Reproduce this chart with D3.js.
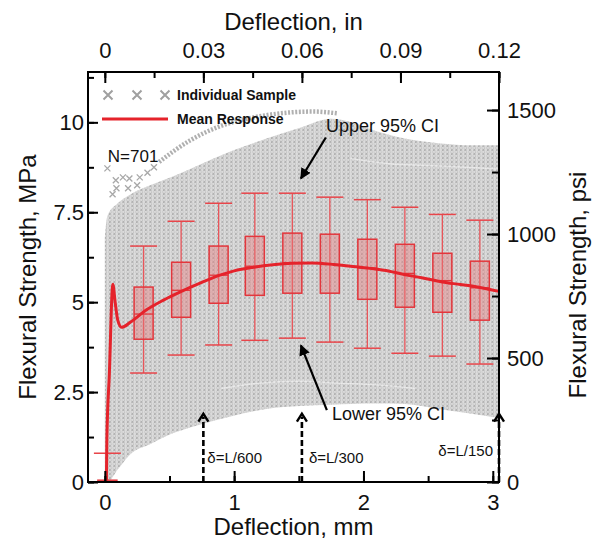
<!DOCTYPE html>
<html>
<head>
<meta charset="utf-8">
<script src="https://cdn.jsdelivr.net/npm/d3@7"></script>
<style>
    body { margin: 0; background: #fff; }
    text { font-family: "Liberation Sans", Arial, sans-serif; fill: #111; }
</style>
</head>
<body>
<svg id="chart" width="600" height="546"></svg>
<script>
"use strict";

// ---- data: deflection in mm, strength in MPa ----
const bandDefl = [0, 0.02, 0.1, 0.2, 0.35, 0.53, 0.72, 0.98, 1.25, 1.51, 1.75, 1.91, 2.1, 2.32, 2.58, 2.85, 3.048];
const bandLow  = [0, 0, 0.35, 0.78, 1.05, 1.36, 1.58, 1.83, 2.03, 2.11, 2.15, 2.17, 2.18, 2.17, 2.03, 1.89, 1.78];
const bandHigh = [6.8, 7.4, 7.75, 8.0, 8.25, 8.5, 8.8, 9.2, 9.55, 9.85, 10.1, 10.0, 9.75, 9.55, 9.42, 9.36, 9.36];

// the one sample that runs above the rest
const topSampleDefl = [0.42, 0.66, 0.89, 1.1, 1.25, 1.45, 1.61, 1.8];
const topSampleStr  = [8.9, 9.5, 9.89, 10.1, 10.2, 10.28, 10.3, 10.25];

// stray points near the origin
const strayDefl = [0.02, 0.085, 0.14, 0.19, 0.27, 0.09, 0.18, 0.25, 0.06, 0.33, 0.38];
const strayStr  = [8.72, 8.39, 8.47, 8.44, 8.47, 8.17, 8.17, 8.25, 8.0, 8.6, 8.75];

// lighter gaps between sample curves
const gapLowDefl  = [0.9, 1.2, 1.5, 1.8, 2.1, 2.4];
const gapLowStr   = [2.6, 2.75, 2.8, 2.75, 2.7, 2.6];
const gapHighDefl = [1.9, 2.2, 2.5, 2.8, 3.048];
const gapHighStr  = [9.0, 8.85, 8.8, 8.75, 8.7];

const meanDefl = [0.012, 0.016, 0.035, 0.062, 0.08, 0.1, 0.13, 0.2, 0.32, 0.45, 0.58, 0.75, 0.89, 1.0, 1.15, 1.3,
    1.45, 1.6, 1.77, 1.9, 2.05, 2.2, 2.3, 2.45, 2.61, 2.75, 2.88, 3.048];
const meanStr  = [0, 1.2, 3.0, 5.5, 5.0, 4.5, 4.3, 4.45, 4.78, 5.05, 5.28, 5.55, 5.75, 5.87, 5.97, 6.04,
    6.08, 6.09, 6.05, 6.0, 5.94, 5.86, 5.78, 5.68, 5.56, 5.49, 5.42, 5.3];

const boxDefl   = [0.02, 0.30, 0.59, 0.88, 1.16, 1.45, 1.74, 2.03, 2.32, 2.61, 2.90];
const boxLower  = [0, 3.03, 3.53, 3.81, 3.94, 4.00, 3.89, 3.72, 3.58, 3.50, 3.28];
const boxQ1     = [0, 3.97, 4.58, 4.97, 5.19, 5.25, 5.25, 5.08, 4.86, 4.72, 4.50];
const boxMedian = [0, 4.67, 5.33, 5.75, 6.00, 6.10, 6.05, 5.95, 5.80, 5.60, 5.40];
const boxQ3     = [0.05, 5.42, 6.11, 6.56, 6.83, 6.92, 6.89, 6.75, 6.61, 6.36, 6.14];
const boxUpper  = [0.8, 6.56, 7.25, 7.75, 8.03, 8.03, 7.92, 7.85, 7.64, 7.44, 7.28];

const spanLength = 457.2;            // mm
const limitRatios = [600, 300, 150];

const mmTicks = [0, 0.5, 1, 1.5, 2, 2.5, 3];
const mmLabels = [0, 1, 2, 3];
const inTicks = [0, 0.015, 0.03, 0.045, 0.06, 0.075, 0.09, 0.105, 0.12];
const inLabels = [0, 0.03, 0.06, 0.09, 0.12];
const mpaTicks = [0, 1.25, 2.5, 3.75, 5, 6.25, 7.5, 8.75, 10, 11.25];
const mpaLabels = [0, 2.5, 5, 7.5, 10];
const psiTicks = [0, 250, 500, 750, 1000, 1250, 1500];
const psiLabels = [0, 500, 1000, 1500];

const MM_PER_IN = 25.4;
const PSI_PER_MPA = 145.038;

/**
 * @class
 */
class FlexuralChart {

    constructor(selector) {
        this.svg = d3.select(selector);
        this.x = d3.scaleLinear().domain([-0.13, 3.048]).range([88, 499]);
        this.xIn = d3.scaleLinear().domain([-0.13 / MM_PER_IN, 3.048 / MM_PER_IN]).range([88, 499]);
        this.y = d3.scaleLinear().domain([0, 11.4]).range([482, 72]);
        this.yPsi = d3.scaleLinear().domain([0, 11.4 * PSI_PER_MPA]).range([482, 72]);
        this.red = "#e5232b";
    }

    build() {
        this.defs();
        this.band();
        this.boxes();
        this.meanLine();
        this.limits();
        this.axes();
        this.annotations();
        this.legend();
    }

    defs() {
        const defs = this.svg.append("defs");
        const pat = defs.append("pattern").attr("id", "xpat")
            .attr("width", 4.5).attr("height", 4).attr("patternUnits", "userSpaceOnUse");
        pat.append("rect").attr("width", 4.5).attr("height", 4).attr("fill", "#dcdcdc");
        pat.append("path").attr("d", "M0.6,0.5L3.4,3.3M3.4,0.5L0.6,3.3")
            .attr("stroke", "#a4a4a4").attr("stroke-width", 0.8);
        const clip = defs.append("clipPath").attr("id", "plotclip");
        clip.append("rect").attr("x", this.x.range()[0]).attr("y", this.y.range()[1])
            .attr("width", this.x.range()[1] - this.x.range()[0])
            .attr("height", this.y.range()[0] - this.y.range()[1]);
        defs.append("marker").attr("id", "head").attr("viewBox", "0 0 10 10")
            .attr("refX", 9).attr("refY", 5).attr("markerWidth", 5).attr("markerHeight", 5)
            .attr("orient", "auto").append("path").attr("d", "M0,0L10,5L0,10z").attr("fill", "#000");
    }

    band() {
        const x = this.x, y = this.y;
        const g = this.svg.append("g").attr("clip-path", "url(#plotclip)");
        const area = d3.area().curve(d3.curveMonotoneX)
            .x((d, i) => x(bandDefl[i])).y0((d, i) => y(bandLow[i])).y1((d, i) => y(bandHigh[i]));
        g.append("path").attr("d", area(bandDefl)).attr("fill", "url(#xpat)");

        const line = (xs, ys) => d3.line().curve(d3.curveMonotoneX)
            .x((d, i) => x(xs[i])).y((d, i) => y(ys[i]))(xs);
        [[gapLowDefl, gapLowStr], [gapHighDefl, gapHighStr]].forEach(([xs, ys]) => {
            g.append("path").attr("d", line(xs, ys)).attr("fill", "none")
                .attr("stroke", "#fff").attr("stroke-width", 1.4).attr("opacity", 0.45);
        });
        g.append("path").attr("d", line(topSampleDefl, topSampleStr)).attr("fill", "none")
            .attr("stroke", "#b0b0b0").attr("stroke-width", 4.5).attr("stroke-dasharray", "2,1.6");

        g.selectAll(".stray").data(strayDefl).enter().append("path")
            .attr("class", "stray")
            .attr("transform", (d, i) => `translate(${x(d)},${y(strayStr[i])})`)
            .attr("d", "M-3,-3L3,3M3,-3L-3,3")
            .attr("stroke", "#a8a8a8").attr("stroke-width", 1.3);
    }

    boxes() {
        const x = this.x, y = this.y;
        const g = this.svg.append("g");
        const bw = 9.5, cw = 13.5;
        const box = g.selectAll(".box").data(boxDefl).enter().append("g").attr("class", "box");
        box.append("line").attr("x1", d => x(d)).attr("x2", d => x(d))
            .attr("y1", (d, i) => y(boxLower[i])).attr("y2", (d, i) => y(boxUpper[i]))
            .attr("stroke", "#e8555a").attr("stroke-width", 1.3);
        [boxLower, boxUpper].forEach(arr => {
            box.append("line").attr("x1", d => x(d) - cw).attr("x2", d => x(d) + cw)
                .attr("y1", (d, i) => y(arr[i])).attr("y2", (d, i) => y(arr[i]))
                .attr("stroke", "#e8454a").attr("stroke-width", 1.5);
        });
        box.append("rect").attr("x", d => x(d) - bw).attr("width", bw * 2)
            .attr("y", (d, i) => y(boxQ3[i])).attr("height", (d, i) => y(boxQ1[i]) - y(boxQ3[i]))
            .attr("fill", "rgba(232,120,122,0.42)").attr("stroke", "#e3363c").attr("stroke-width", 1.5);
        box.append("line").attr("x1", d => x(d) - bw).attr("x2", d => x(d) + bw)
            .attr("y1", (d, i) => y(boxMedian[i])).attr("y2", (d, i) => y(boxMedian[i]))
            .attr("stroke", "#e3363c").attr("stroke-width", 1.3);
    }

    meanLine() {
        const x = this.x, y = this.y;
        const line = d3.line().curve(d3.curveMonotoneX)
            .x((d, i) => x(meanDefl[i])).y((d, i) => y(meanStr[i]));
        this.svg.append("path").attr("d", line(meanDefl)).attr("fill", "none")
            .attr("stroke", this.red).attr("stroke-width", 3);
    }

    limits() {
        const x = this.x, y = this.y;
        const g = this.svg.append("g");
        const top = 1.9;
        limitRatios.forEach((r, k) => {
            const xv = x(Math.min(spanLength / r, 3.048));
            g.append("line").attr("x1", xv).attr("x2", xv).attr("y1", y(0)).attr("y2", y(top) + 3)
                .attr("stroke", "#000").attr("stroke-width", 2.6).attr("stroke-dasharray", "6,3");
            g.append("path").attr("d", `M${xv - 5},${y(top) + 8}L${xv},${y(top)}L${xv + 5},${y(top) + 8}`)
                .attr("fill", "none").attr("stroke", "#000").attr("stroke-width", 2.4);
            const last = k === limitRatios.length - 1;
            g.append("text")
                .attr("x", last ? xv - 6 : xv + (k === 0 ? 4 : 7))
                .attr("y", last ? y(0.72) : y(0.53))
                .attr("text-anchor", last ? "end" : "start")
                .attr("font-size", 15)
                .text(`δ=L/${r}`);
        });
    }

    axes() {
        const x = this.x, xIn = this.xIn, y = this.y, yPsi = this.yPsi;
        const svg = this.svg;
        const [x0, x1] = x.range();
        const [y0, y1] = y.range();
        const style = (g, size) => {
            g.select(".domain").remove();
            g.selectAll("line").attr("stroke", "#000").attr("stroke-width", 2);
            g.selectAll("text").attr("font-size", size).attr("font-family", "Liberation Sans, Arial, sans-serif")
                .attr("fill", "#111");
        };
        // minor ticks
        svg.append("g").attr("transform", `translate(0,${y0})`)
            .call(d3.axisBottom(x).tickValues(mmTicks).tickSize(-6).tickFormat("")).call(g => style(g, 0));
        svg.append("g").attr("transform", `translate(0,${y1})`)
            .call(d3.axisTop(xIn).tickValues(inTicks).tickSize(-6).tickFormat("")).call(g => style(g, 0));
        svg.append("g").attr("transform", `translate(${x0},0)`)
            .call(d3.axisLeft(y).tickValues(mpaTicks).tickSize(-6).tickFormat("")).call(g => style(g, 0));
        svg.append("g").attr("transform", `translate(${x1},0)`)
            .call(d3.axisRight(yPsi).tickValues(psiTicks).tickSize(-7).tickFormat("")).call(g => style(g, 0));
        // major ticks with labels
        svg.append("g").attr("transform", `translate(0,${y0})`)
            .call(d3.axisBottom(x).tickValues(mmLabels).tickSizeInner(-11).tickSizeOuter(0).tickPadding(12)
                .tickFormat(d3.format("d"))).call(g => style(g, 22));
        svg.append("g").attr("transform", `translate(0,${y1})`)
            .call(d3.axisTop(xIn).tickValues(inLabels).tickSizeInner(-11).tickSizeOuter(0).tickPadding(14)
                .tickFormat(d => d === 0 ? "0" : d3.format(".2f")(d))).call(g => style(g, 22));
        svg.append("g").attr("transform", `translate(${x0},0)`)
            .call(d3.axisLeft(y).tickValues(mpaLabels).tickSizeInner(-10).tickSizeOuter(0).tickPadding(4)
                .tickFormat(d => String(d))).call(g => style(g, 22));
        svg.append("g").attr("transform", `translate(${x1},0)`)
            .call(d3.axisRight(yPsi).tickValues(psiLabels).tickSizeInner(-12).tickSizeOuter(0).tickPadding(8)
                .tickFormat(d => String(d))).call(g => style(g, 22));

        svg.append("rect").attr("x", x0).attr("y", y1).attr("width", x1 - x0).attr("height", y0 - y1)
            .attr("fill", "none").attr("stroke", "#000").attr("stroke-width", 2);

        const cx = (x0 + x1) / 2;
        svg.append("text").attr("x", cx).attr("y", 30).attr("text-anchor", "middle")
            .attr("font-size", 24).text("Deflection, in");
        svg.append("text").attr("x", cx).attr("y", 535).attr("text-anchor", "middle")
            .attr("font-size", 24).text("Deflection, mm");
        svg.append("text").attr("transform", `translate(36,${(y0 + y1) / 2}) rotate(-90)`)
            .attr("text-anchor", "middle").attr("font-size", 24).text("Flexural Strength, MPa");
        svg.append("text").attr("transform", `translate(586,${(y0 + y1) / 2 + 8}) rotate(-90)`)
            .attr("text-anchor", "middle").attr("font-size", 24).text("Flexural Strength, psi");
    }

    annotations() {
        const x = this.x, y = this.y, svg = this.svg;
        svg.append("text").attr("x", x(0.023)).attr("y", y(8.89)).attr("font-size", 17).text("N=701");
        svg.append("text").attr("x", x(1.71)).attr("y", y(9.72)).attr("font-size", 18).text("Upper 95% CI");
        svg.append("text").attr("x", x(1.756)).attr("y", y(1.72)).attr("font-size", 18).text("Lower 95% CI");
        svg.append("line").attr("x1", x(1.709)).attr("y1", y(9.58)).attr("x2", x(1.516)).attr("y2", y(8.44))
            .attr("stroke", "#000").attr("stroke-width", 2.2).attr("marker-end", "url(#head)");
        svg.append("line").attr("x1", x(1.717)).attr("y1", y(2.0)).attr("x2", x(1.516)).attr("y2", y(3.8))
            .attr("stroke", "#000").attr("stroke-width", 2.2).attr("marker-end", "url(#head)");
    }

    legend() {
        const g = this.svg.append("g").attr("transform", "translate(100,95)");
        [8, 37, 65].forEach(cx => {
            g.append("path").attr("transform", `translate(${cx},0)`).attr("d", "M-4.5,-4.5L4.5,4.5M4.5,-4.5L-4.5,4.5")
                .attr("stroke", "#a0a0a0").attr("stroke-width", 2);
        });
        g.append("line").attr("x1", 2).attr("x2", 68).attr("y1", 24).attr("y2", 24)
            .attr("stroke", this.red).attr("stroke-width", 3);
        g.append("text").attr("x", 77).attr("y", 5).attr("font-family", "Lato, sans-serif")
            .attr("font-weight", "bold").attr("font-size", 14).text("Individual Sample");
        g.append("text").attr("x", 77).attr("y", 29).attr("font-family", "Lato, sans-serif")
            .attr("font-weight", "bold").attr("font-size", 14).text("Mean Response");
    }
}

new FlexuralChart("#chart").build();
</script>
</body>
</html>
